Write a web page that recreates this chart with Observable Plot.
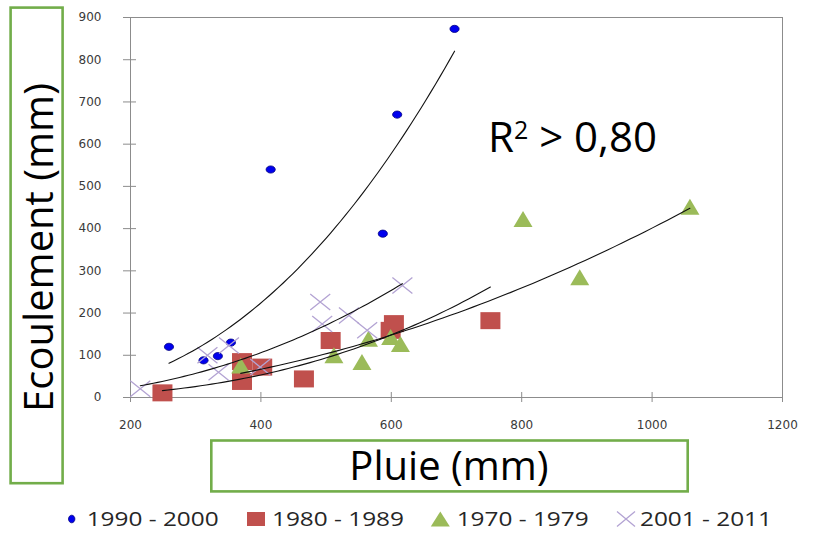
<!DOCTYPE html>
<html><head><meta charset="utf-8">
<script src="https://cdn.jsdelivr.net/npm/d3@7"></script>
<script src="https://cdn.jsdelivr.net/npm/@observablehq/plot@0.6"></script>
<style>body{margin:0;background:#fff}</style>
</head><body><div id="chart"></div>
<script>
// ---- data ----
const series = ["1990 - 2000", "1980 - 1989", "1970 - 1979", "2001 - 2011"];
const pluie1990 = [259, 312, 334, 354, 415, 587, 609, 697];
const ecoul1990 = [120, 88, 98, 130, 540, 388, 670, 873];
const pluie1980 = [249, 371, 371, 402, 466, 507, 599, 604, 752];
const ecoul1980 = [11, 38, 85, 72, 44, 135, 159, 175, 182];
const pluie1970 = [369, 512, 555, 565, 599, 614, 802, 889, 1058];
const ecoul1970 = [76, 100, 84, 139, 143, 127, 423, 285, 452];
const pluie2001 = [215, 318, 335, 351, 399, 491, 494, 535, 563, 617];
const ecoul2001 = [21, 100, 60, 123, 72, 226, 174, 194, 159, 265];
const xTicks = [200, 400, 600, 800, 1000, 1200];
const yTicks = [0, 100, 200, 300, 400, 500, 600, 700, 800, 900];
const xTitle = "Pluie (mm)";
const yTitle = "Ecoulement (mm)";
const r2Text = " > 0,80";

const pluies = [pluie1990, pluie1980, pluie1970, pluie2001];
const ecouls = [ecoul1990, ecoul1980, ecoul1970, ecoul2001];

// ---- marker symbols ----
const K = 0.5523;
const ellipse = (rx, ry) => ({draw(c) {
  c.moveTo(rx, 0);
  c.bezierCurveTo(rx, ry * K, rx * K, ry, 0, ry);
  c.bezierCurveTo(-rx * K, ry, -rx, ry * K, -rx, 0);
  c.bezierCurveTo(-rx, -ry * K, -rx * K, -ry, 0, -ry);
  c.bezierCurveTo(rx * K, -ry, rx, -ry * K, rx, 0);
  c.closePath();
}});
const box = (w, h) => ({draw(c) {
  c.moveTo(-w / 2, -h / 2); c.lineTo(w / 2, -h / 2); c.lineTo(w / 2, h / 2); c.lineTo(-w / 2, h / 2); c.closePath();
}});
const tri = (w, h) => ({draw(c) {
  c.moveTo(0, -h / 2); c.lineTo(w / 2, h / 2); c.lineTo(-w / 2, h / 2); c.closePath();
}});
const cross = (w, h) => ({draw(c) {
  c.moveTo(-w / 2, -h / 2); c.lineTo(w / 2, h / 2); c.moveTo(w / 2, -h / 2); c.lineTo(-w / 2, h / 2);
}});

const styles = [
  {symbol: ellipse(4.6, 3.6), fill: "#0000ee", stroke: "#000080", strokeWidth: 0.8, legend: ellipse(3.2, 3.8)},
  {symbol: box(20, 17), fill: "#c0504d", stroke: "none", legend: box(18, 14)},
  {symbol: tri(19, 16), fill: "#9bbb59", stroke: "none", legend: tri(19, 15)},
  {symbol: cross(20, 16), fill: "none", stroke: "#b3a3d3", strokeWidth: 1.3, legend: cross(18, 15)}
];

const rows = series.map((s, k) => pluies[k].map((p, i) => ({serie: s, pluie: p, ecoul: ecouls[k][i]})));

// power-law trend (least squares on log-log), as in the spreadsheet trendlines
function powerFit(data) {
  const lx = data.map(d => Math.log(d.pluie)), ly = data.map(d => Math.log(d.ecoul));
  const mx = d3.mean(lx), my = d3.mean(ly);
  const b = d3.sum(lx, (v, i) => (v - mx) * (ly[i] - my)) / d3.sum(lx, v => (v - mx) ** 2);
  const a = Math.exp(my - b * mx);
  const [x0, x1] = d3.extent(data, d => d.pluie);
  return d3.range(61).map(i => { const x = x0 + (x1 - x0) * i / 60; return {pluie: x, ecoul: a * Math.pow(x, b)}; });
}

const fmt = d3.format("d");
const marks = [
  Plot.frame({stroke: "#8c8c8c"}),
  Plot.axisY({ticks: yTicks, tickSize: 13, dx: 6, stroke: "#8c8c8c", fill: "none", label: null}),
  Plot.axisY({ticks: yTicks, tickSize: 0, tickPadding: 29, tickFormat: fmt, fill: "#3a3a3a", fontSize: 12, fontFamily: "DejaVu Sans", label: null}),
  Plot.axisX({ticks: xTicks, tickSize: 10, dy: -5, stroke: "#8c8c8c", fill: "none", label: null}),
  Plot.axisX({ticks: xTicks, tickSize: 0, tickPadding: 23, tickFormat: fmt, fill: "#3a3a3a", fontSize: 12, fontFamily: "DejaVu Sans", label: null}),
  ...rows.map((data, k) => Plot.dot(data, {x: "pluie", y: "ecoul", symbol: styles[k].symbol, fill: styles[k].fill,
    stroke: styles[k].stroke, strokeWidth: styles[k].strokeWidth ?? 1})),
  ...rows.map(data => Plot.line(powerFit(data), {x: "pluie", y: "ecoul", stroke: "#111", strokeWidth: 1.1, curve: "linear"}))
];

const svg = Plot.plot({
  width: 829, height: 542,
  marginLeft: 130, marginRight: 47, marginTop: 17, marginBottom: 145,
  x: {domain: [200, 1200], axis: null},
  y: {domain: [0, 900], axis: null},
  style: {background: "#fff", fontFamily: "DejaVu Sans"},
  marks
});
document.getElementById("chart").append(svg);

const g = d3.select(svg).append("g").attr("font-family", "'Open Sans', sans-serif").attr("text-anchor", "start");
const green = "#72ad4a";
// axis titles in boxes
g.append("rect").attr("x", 10.6).attr("y", 7.6).attr("width", 52).attr("height", 475.6)
  .attr("fill", "none").attr("stroke", green).attr("stroke-width", 2.6);
g.append("text").attr("transform", "translate(53,247.5) rotate(-90)").attr("text-anchor", "middle")
  .attr("font-size", 40).attr("fill", "#000").text(yTitle);
g.append("rect").attr("x", 211.3).attr("y", 440.5).attr("width", 476.4).attr("height", 50.9)
  .attr("fill", "none").attr("stroke", green).attr("stroke-width", 2.6);
g.append("text").attr("x", 449).attr("y", 480).attr("text-anchor", "middle")
  .attr("font-size", 40).attr("fill", "#000").text(xTitle);
// R² annotation
const r2 = g.append("text").attr("x", 488).attr("y", 152).attr("font-size", 42).attr("fill", "#000").attr("text-anchor", "start");
r2.append("tspan").text("R");
r2.append("tspan").attr("font-size", 25).attr("dy", -13).text("2");
r2.append("tspan").attr("dy", 13).text(r2Text);
// legend
const legX = [71.7, 256, 440.3, 626];
const legTx = [86.7, 272, 456.7, 640];
series.forEach((s, k) => {
  const st = styles[k];
  const p = d3.path(); st.legend.draw(p);
  g.append("path").attr("d", p.toString()).attr("transform", `translate(${legX[k]},519)`)
    .attr("fill", st.fill).attr("stroke", st.stroke).attr("stroke-width", st.strokeWidth ?? 1);
  g.append("text").attr("x", legTx[k]).attr("y", 526).attr("font-size", 20).attr("fill", "#262626")
    .attr("text-anchor", "start").attr("textLength", 132).attr("lengthAdjust", "spacingAndGlyphs").text(s);
});
</script>
</body></html>
